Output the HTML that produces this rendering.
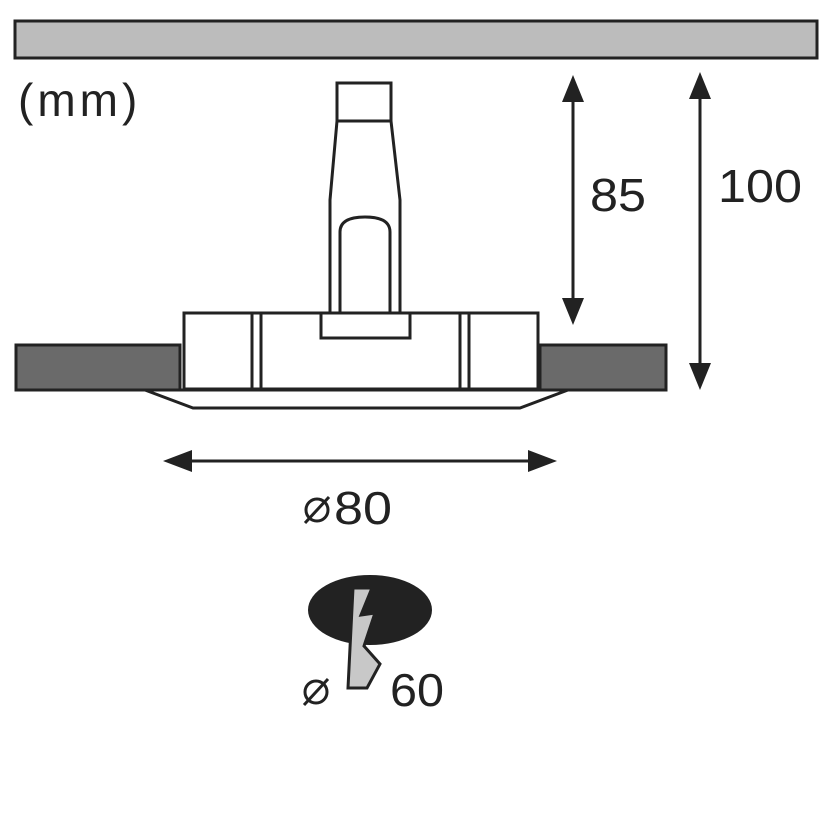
<html><body style="margin:0;background:#fff">
<svg width="824" height="824" xmlns="http://www.w3.org/2000/svg" font-family="Liberation Sans, sans-serif">
<rect x="15" y="21" width="802" height="37" fill="#bcbcbc" stroke="#222" stroke-width="3"/>
<text x="18" y="116" font-size="46" fill="#222" letter-spacing="4">(mm)</text>
<g stroke="#222" stroke-width="3" fill="#fff">
<polygon points="145,390 193,408 520,408 568,390"/>
<rect x="16" y="345" width="164" height="45" fill="#6a6a6a"/>
<rect x="540" y="345" width="126" height="45" fill="#6a6a6a"/>
<rect x="184" y="313" width="354" height="76"/>
<line x1="252" y1="313" x2="252" y2="389"/><line x1="261" y1="313" x2="261" y2="389"/>
<line x1="460" y1="313" x2="460" y2="389"/><line x1="469" y1="313" x2="469" y2="389"/>
<polygon points="337,121 391,121 400,200 400,313 330,313 330,200"/>
<rect x="337" y="83" width="54" height="38"/>
<path d="M340,313 V232 Q340,217 365,217 Q390,217 390,232 V313"/>
<rect x="321" y="313" width="89" height="25"/>
</g>
<g stroke="#222" stroke-width="3">
<line x1="573" y1="95" x2="573" y2="305"/>
<line x1="700" y1="95" x2="700" y2="370"/>
<line x1="185" y1="461" x2="535" y2="461"/>
</g>
<g fill="#222">
<polygon points="573,75 562,102 584,102"/><polygon points="573,325 562,298 584,298"/>
<polygon points="700,72 689,99 711,99"/><polygon points="700,390 689,363 711,363"/>
<polygon points="163,461 192,450 192,472"/><polygon points="557,461 528,450 528,472"/>
</g>
<text x="590" y="211" font-size="46" fill="#222" textLength="56" lengthAdjust="spacingAndGlyphs">85</text>
<text x="718" y="202" font-size="46" fill="#222" textLength="84" lengthAdjust="spacingAndGlyphs">100</text>
<g stroke="#222" stroke-width="3" fill="none">
<circle cx="317" cy="510" r="11"/><line x1="305" y1="523" x2="329" y2="497"/>
<circle cx="316" cy="692" r="11"/><line x1="304" y1="705" x2="328" y2="679"/>
</g>
<text x="334" y="524" font-size="46" fill="#222" textLength="58" lengthAdjust="spacingAndGlyphs">80</text>
<ellipse cx="370" cy="610" rx="62" ry="35" fill="#222"/>
<polygon points="353,588 372,588 361,615 375,613 364,646 380,664 367,688 348,688 350,648" fill="#c8c8c8" stroke="#222" stroke-width="3"/>
<text x="390" y="706" font-size="46" fill="#222" textLength="54" lengthAdjust="spacingAndGlyphs">60</text>
</svg>
</body></html>
